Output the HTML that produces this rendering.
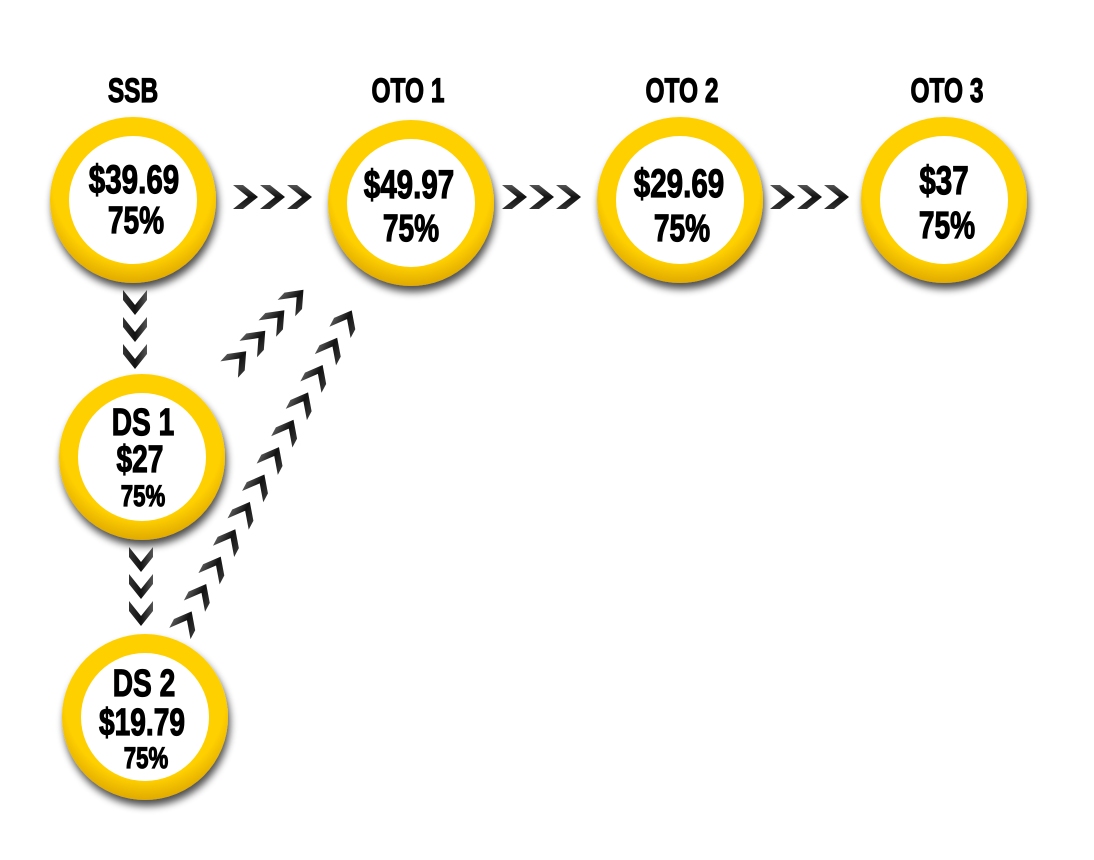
<!DOCTYPE html>
<html><head><style>
html,body{margin:0;padding:0;background:#fff;}
svg{display:block;}
text{font-family:"Liberation Sans",sans-serif;font-weight:bold;fill:#000;stroke:#000;stroke-width:1.2;text-anchor:middle;}
</style></head><body>
<svg width="1094" height="860" viewBox="0 0 1094 860" xmlns="http://www.w3.org/2000/svg">
<defs>
<filter id="sh" x="-30%" y="-30%" width="160%" height="160%">
<feGaussianBlur in="SourceAlpha" stdDeviation="4"/><feOffset dx="2" dy="6"/>
<feComponentTransfer><feFuncA type="linear" slope="0.7"/></feComponentTransfer>
<feMerge><feMergeNode/><feMergeNode in="SourceGraphic"/></feMerge></filter>
<radialGradient id="yg" cx="50%" cy="40%" r="60%">
<stop offset="0.8" stop-color="#ffd000"/><stop offset="1" stop-color="#e0aa00"/></radialGradient>
<linearGradient id="cg" x1="0" y1="0" x2="0" y2="1">
<stop offset="0" stop-color="#555"/><stop offset="0.5" stop-color="#111"/><stop offset="1" stop-color="#333"/></linearGradient>
<polygon id="ch" points="-13,-12 -3,-12 12,0 -3,12 -13,12 2,0" fill="url(#cg)"/>
<g id="ring"><circle r="83" fill="url(#yg)" filter="url(#sh)"/><circle r="64" fill="#fff"/></g>
</defs>

<use href="#ring" x="133" y="200"/>
<use href="#ring" x="411" y="203"/>
<use href="#ring" x="680" y="200"/>
<use href="#ring" x="944" y="200"/>
<use href="#ring" x="142" y="457"/>
<use href="#ring" x="145" y="717"/>

<g transform="translate(133,102) scale(0.72,1)"><text font-size="34">SSB</text></g>
<g transform="translate(408,102) scale(0.72,1)"><text font-size="34">OTO 1</text></g>
<g transform="translate(682,102) scale(0.72,1)"><text font-size="34">OTO 2</text></g>
<g transform="translate(947,102) scale(0.72,1)"><text font-size="34">OTO 3</text></g>

<g transform="translate(134,193) scale(0.74,1)"><text font-size="40">$39.69</text></g>
<g transform="translate(136,233) scale(0.74,1)"><text font-size="38">75%</text></g>
<g transform="translate(409,198) scale(0.74,1)"><text font-size="40">$49.97</text></g>
<g transform="translate(411,241) scale(0.74,1)"><text font-size="38">75%</text></g>
<g transform="translate(679,197) scale(0.74,1)"><text font-size="40">$29.69</text></g>
<g transform="translate(682,241) scale(0.74,1)"><text font-size="38">75%</text></g>
<g transform="translate(944,194) scale(0.74,1)"><text font-size="40">$37</text></g>
<g transform="translate(947,238) scale(0.74,1)"><text font-size="38">75%</text></g>
<g transform="translate(143,435) scale(0.74,1)"><text font-size="38">DS 1</text></g>
<g transform="translate(140,472) scale(0.74,1)"><text font-size="38">$27</text></g>
<g transform="translate(143,506) scale(0.74,1)"><text font-size="30">75%</text></g>
<g transform="translate(144,696) scale(0.74,1)"><text font-size="38">DS 2</text></g>
<g transform="translate(142,735) scale(0.74,1)"><text font-size="38">$19.79</text></g>
<g transform="translate(146,768) scale(0.74,1)"><text font-size="30">75%</text></g>

<g><use href="#ch" x="246" y="197"/><use href="#ch" x="273" y="197"/><use href="#ch" x="300" y="197"/></g>
<g><use href="#ch" x="515" y="197"/><use href="#ch" x="542" y="197"/><use href="#ch" x="569" y="197"/></g>
<g><use href="#ch" x="783" y="197"/><use href="#ch" x="810" y="197"/><use href="#ch" x="837" y="197"/></g>
<g transform="translate(135,303) rotate(90)"><use href="#ch" x="0" y="0"/><use href="#ch" x="27" y="0"/><use href="#ch" x="54" y="0"/></g>
<g transform="translate(141,560) rotate(90)"><use href="#ch" x="0" y="0"/><use href="#ch" x="27" y="0"/><use href="#ch" x="54" y="0"/></g>
<g transform="translate(238,360) rotate(-47)"><use href="#ch" x="0" y="0"/><use href="#ch" x="28" y="0"/><use href="#ch" x="56" y="0"/><use href="#ch" x="84" y="0"/></g>
<g transform="translate(186,622) rotate(-62)">
<use href="#ch" x="0" y="0"/><use href="#ch" x="31" y="0"/><use href="#ch" x="62" y="0"/><use href="#ch" x="93" y="0"/>
<use href="#ch" x="124" y="0"/><use href="#ch" x="155" y="0"/><use href="#ch" x="186" y="0"/><use href="#ch" x="217" y="0"/>
<use href="#ch" x="248" y="0"/><use href="#ch" x="279" y="0"/><use href="#ch" x="310" y="0"/><use href="#ch" x="341" y="0"/>
</g>
</svg>
</body></html>
